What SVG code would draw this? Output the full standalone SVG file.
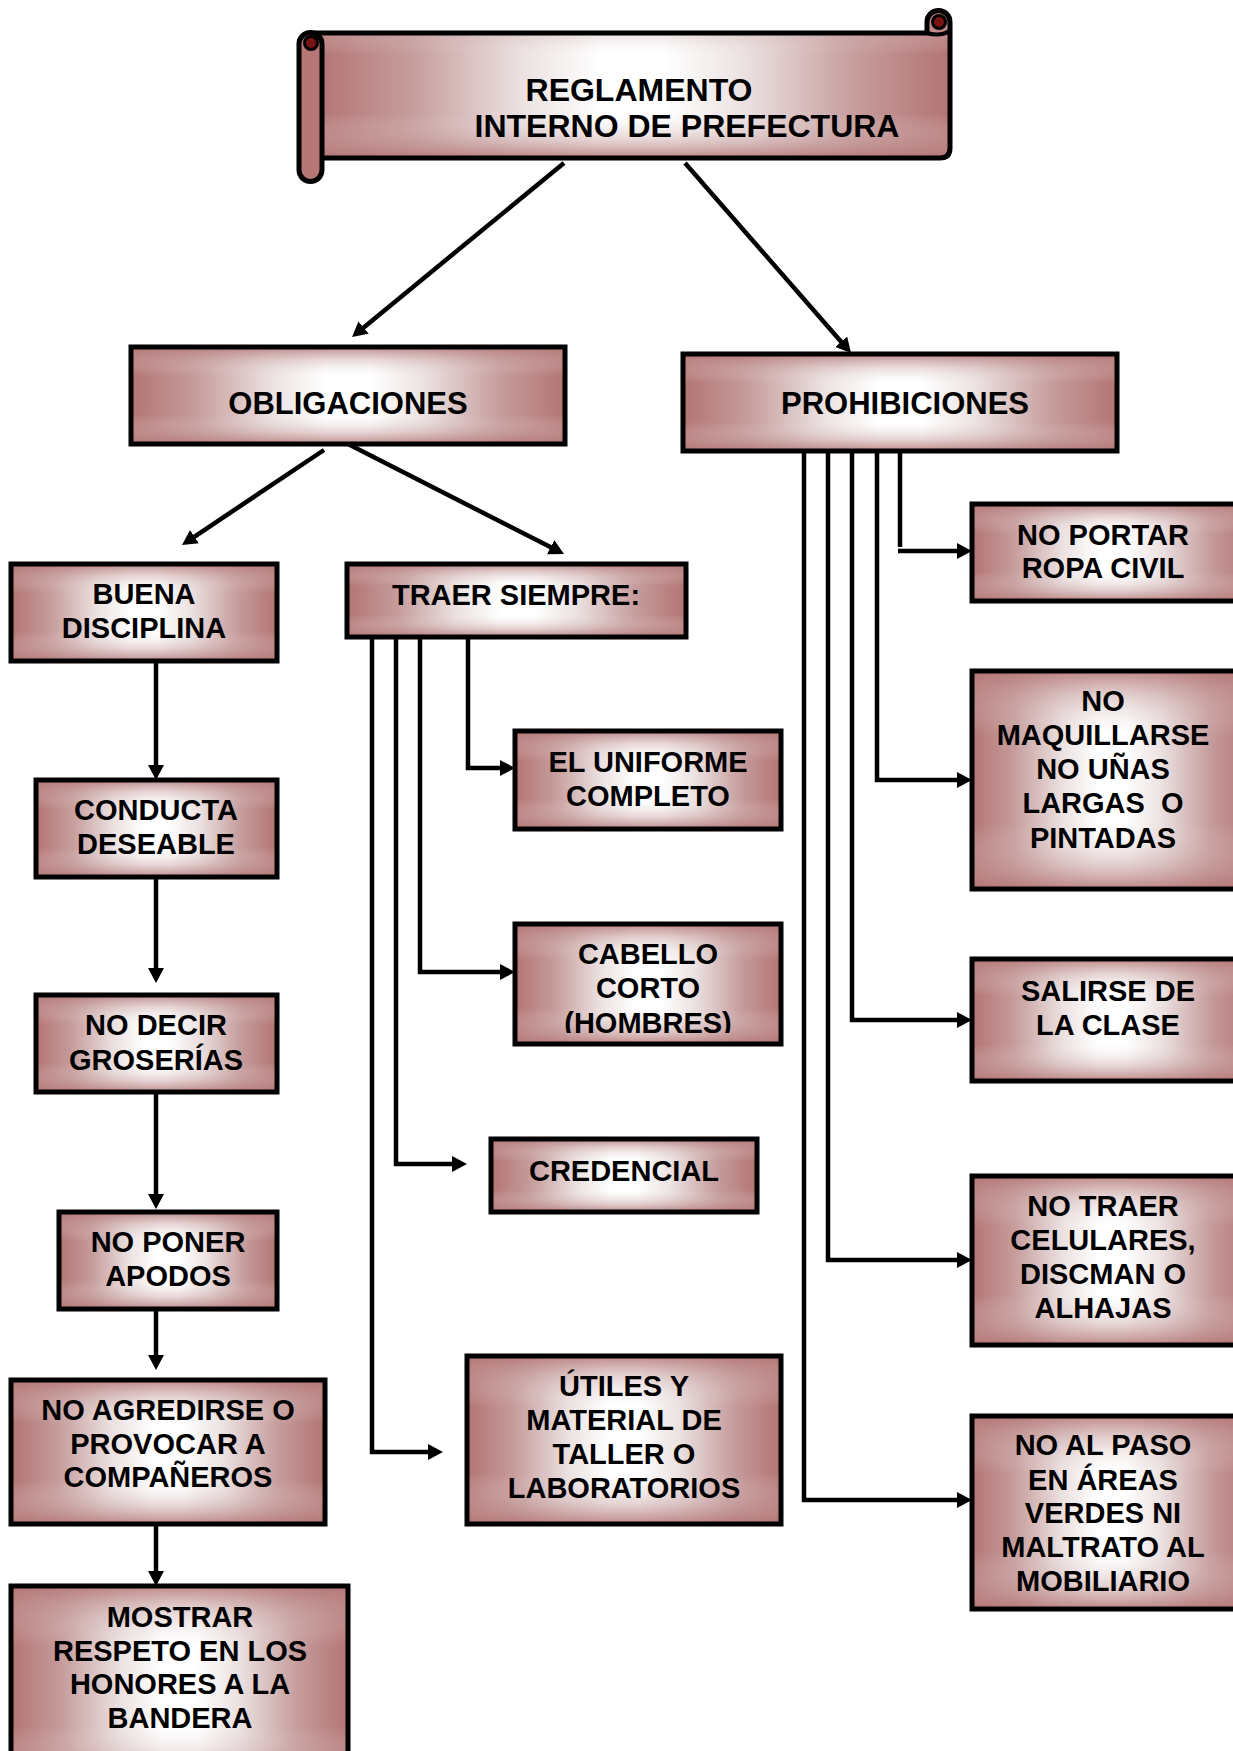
<svg xmlns="http://www.w3.org/2000/svg" width="1233" height="1751" viewBox="0 0 1233 1751">
<style>
.a{fill:url(#gh)}
.b{fill:url(#gv);stroke:#000;stroke-width:5}
.t{font-family:"Liberation Sans",Arial,sans-serif;font-weight:bold;font-size:29px;text-anchor:middle;fill:#000}
.c{fill:none;stroke:#000;stroke-width:4.5}
.m{marker-end:url(#ah)}
</style>
<defs>
<linearGradient id="gh" x1="0" y1="0" x2="1" y2="0">
<stop offset="0" stop-color="#b47474"/>
<stop offset="0.15" stop-color="#c69c9c"/>
<stop offset="0.32" stop-color="#ebe0e0"/>
<stop offset="0.45" stop-color="#ffffff"/>
<stop offset="0.55" stop-color="#ffffff"/>
<stop offset="0.68" stop-color="#ebe0e0"/>
<stop offset="0.85" stop-color="#c69c9c"/>
<stop offset="1" stop-color="#b47474"/>
</linearGradient>
<linearGradient id="gv" x1="0" y1="0" x2="0" y2="1">
<stop offset="0" stop-color="#b47474" stop-opacity="0.85"/>
<stop offset="0.12" stop-color="#c69c9c" stop-opacity="0.45"/>
<stop offset="0.3" stop-color="#ebe0e0" stop-opacity="0"/>
<stop offset="0.7" stop-color="#ebe0e0" stop-opacity="0"/>
<stop offset="0.88" stop-color="#c69c9c" stop-opacity="0.45"/>
<stop offset="1" stop-color="#b47474" stop-opacity="0.85"/>
</linearGradient>
<marker id="ah" viewBox="0 0 15 16" refX="3" refY="8" markerWidth="15" markerHeight="16" markerUnits="userSpaceOnUse" orient="auto">
<path d="M0,0 L15,8 L0,16 Z" fill="#000"/>
</marker>
<clipPath id="clipCab"><rect x="515" y="924" width="266" height="109"/></clipPath>
</defs>
<rect width="1233" height="1751" fill="#fff"/>

<g id="connectors">
<line class="c m" x1="564" y1="163" x2="361.3" y2="329.4"/>
<line class="c m" x1="685" y1="163" x2="843.1" y2="344"/>
<line class="c m" x1="324" y1="450" x2="192" y2="538.3"/>
<line class="c m" x1="348" y1="444" x2="553.3" y2="548.6"/>
<line class="c m" x1="156" y1="661" x2="156" y2="768"/>
<line class="c m" x1="156" y1="877" x2="156" y2="971"/>
<line class="c m" x1="156" y1="1092" x2="156" y2="1197"/>
<line class="c m" x1="156" y1="1300" x2="156" y2="1358"/>
<line class="c m" x1="156" y1="1524" x2="156" y2="1574"/>
<path class="c m" d="M468,627 V768 H503"/>
<path class="c m" d="M420,637 V972 H503"/>
<path class="c m" d="M396,637 V1164 H455"/>
<path class="c m" d="M372,637 V1452 H431"/>
<path class="c" d="M900,451 V547"/>
<path class="c m" d="M898,551 H960"/>
<path class="c m" d="M877,444 V780 H960"/>
<path class="c m" d="M852,444 V1020 H960"/>
<path class="c m" d="M828,444 V1260 H960"/>
<path class="c m" d="M804,444 V1500 H960"/>
</g>

<g id="title">
<path class="a" d="M316,33 H927 V22 A11.5,11.5 0 0 1 950,22 V148 Q950,158 940,158 H316 Z"/>
<path class="b" d="M316,33 H927 V22 A11.5,11.5 0 0 1 950,22 V148 Q950,158 940,158 H316 Z"/>
<path d="M927,33 Q939,37 950,31" fill="none" stroke="#000" stroke-width="4"/>
<path d="M299,44 A11.5,11.5 0 0 1 322,44 V170 A11.5,11.5 0 0 1 299,170 Z" fill="#b87777" stroke="#000" stroke-width="5"/>
<circle cx="311" cy="43" r="6.5" fill="#7a1414" stroke="#000" stroke-width="3"/>
<circle cx="939" cy="22" r="6.5" fill="#7a1414" stroke="#000" stroke-width="3"/>
<text class="t" style="font-size:32px" x="639" y="101">REGLAMENTO</text>
<text class="t" style="font-size:32px" x="687" y="137">INTERNO DE PREFECTURA</text>
</g>

<g id="obligaciones">
<rect class="a" x="131" y="347" width="434" height="97"/>
<rect class="b" x="131" y="347" width="434" height="97"/>
<text class="t" style="font-size:31px" x="348" y="414">OBLIGACIONES</text>
</g>

<g id="prohibiciones">
<rect class="a" x="683" y="354" width="434" height="97"/>
<rect class="b" x="683" y="354" width="434" height="97"/>
<text class="t" style="font-size:31px" x="905" y="414">PROHIBICIONES</text>
</g>

<g id="buena-disciplina">
<rect class="a" x="11" y="564" width="266" height="97"/>
<rect class="b" x="11" y="564" width="266" height="97"/>
<text class="t" x="144" y="604">BUENA</text>
<text class="t" x="144" y="638">DISCIPLINA</text>
</g>

<g id="conducta">
<rect class="a" x="36" y="780" width="241" height="97"/>
<rect class="b" x="36" y="780" width="241" height="97"/>
<text class="t" x="156" y="820">CONDUCTA</text>
<text class="t" x="156" y="854">DESEABLE</text>
</g>

<g id="groserias">
<rect class="a" x="36" y="995" width="241" height="97"/>
<rect class="b" x="36" y="995" width="241" height="97"/>
<text class="t" x="156" y="1035">NO DECIR</text>
<text class="t" x="156" y="1070">GROSERÍAS</text>
</g>

<g id="apodos">
<rect class="a" x="59" y="1212" width="218" height="97"/>
<rect class="b" x="59" y="1212" width="218" height="97"/>
<text class="t" x="168" y="1252">NO PONER</text>
<text class="t" x="168" y="1286">APODOS</text>
</g>

<g id="agredirse">
<rect class="a" x="11" y="1380" width="314" height="144"/>
<rect class="b" x="11" y="1380" width="314" height="144"/>
<text class="t" x="168" y="1420">NO AGREDIRSE O</text>
<text class="t" x="168" y="1454">PROVOCAR A</text>
<text class="t" x="168" y="1487">COMPAÑEROS</text>
</g>

<g id="respeto">
<rect class="a" x="11" y="1586" width="337" height="200"/>
<rect class="b" x="11" y="1586" width="337" height="200"/>
<text class="t" x="180" y="1627">MOSTRAR</text>
<text class="t" x="180" y="1661">RESPETO EN LOS</text>
<text class="t" x="180" y="1694">HONORES A LA</text>
<text class="t" x="180" y="1728">BANDERA</text>
</g>

<g id="traer-siempre">
<rect class="a" x="347" y="564" width="339" height="73"/>
<rect class="b" x="347" y="564" width="339" height="73"/>
<text class="t" x="516" y="605">TRAER SIEMPRE:</text>
</g>

<g id="uniforme">
<rect class="a" x="515" y="731" width="266" height="98"/>
<rect class="b" x="515" y="731" width="266" height="98"/>
<text class="t" x="648" y="772">EL UNIFORME</text>
<text class="t" x="648" y="806">COMPLETO</text>
</g>

<g id="cabello">
<rect class="a" x="515" y="924" width="266" height="120"/>
<rect class="b" x="515" y="924" width="266" height="120"/>
<g clip-path="url(#clipCab)">
<text class="t" x="648" y="964">CABELLO</text>
<text class="t" x="648" y="998">CORTO</text>
<text class="t" x="648" y="1033">(HOMBRES)</text>
</g>
</g>

<g id="credencial">
<rect class="a" x="491" y="1139" width="266" height="73"/>
<rect class="b" x="491" y="1139" width="266" height="73"/>
<text class="t" x="624" y="1181">CREDENCIAL</text>
</g>

<g id="utiles">
<rect class="a" x="467" y="1356" width="314" height="168"/>
<rect class="b" x="467" y="1356" width="314" height="168"/>
<text class="t" x="624" y="1396">ÚTILES Y</text>
<text class="t" x="624" y="1430">MATERIAL DE</text>
<text class="t" x="624" y="1464">TALLER O</text>
<text class="t" x="624" y="1498">LABORATORIOS</text>
</g>

<g id="ropa-civil">
<rect class="a" x="972" y="504" width="280" height="97"/>
<rect class="b" x="972" y="504" width="280" height="97"/>
<text class="t" x="1103" y="545">NO PORTAR</text>
<text class="t" x="1103" y="578">ROPA CIVIL</text>
</g>

<g id="maquillarse">
<rect class="a" x="972" y="671" width="280" height="218"/>
<rect class="b" x="972" y="671" width="280" height="218"/>
<text class="t" x="1103" y="711">NO</text>
<text class="t" x="1103" y="745">MAQUILLARSE</text>
<text class="t" x="1103" y="779">NO UÑAS</text>
<text class="t" x="1103" y="813" xml:space="preserve">LARGAS  O</text>
<text class="t" x="1103" y="848">PINTADAS</text>
</g>

<g id="salirse">
<rect class="a" x="972" y="959" width="280" height="122"/>
<rect class="b" x="972" y="959" width="280" height="122"/>
<text class="t" x="1108" y="1001">SALIRSE DE</text>
<text class="t" x="1108" y="1035">LA CLASE</text>
</g>

<g id="celulares">
<rect class="a" x="972" y="1176" width="280" height="169"/>
<rect class="b" x="972" y="1176" width="280" height="169"/>
<text class="t" x="1103" y="1216">NO TRAER</text>
<text class="t" x="1103" y="1250">CELULARES,</text>
<text class="t" x="1103" y="1284">DISCMAN O</text>
<text class="t" x="1103" y="1318">ALHAJAS</text>
</g>

<g id="areas-verdes">
<rect class="a" x="972" y="1416" width="280" height="193"/>
<rect class="b" x="972" y="1416" width="280" height="193"/>
<text class="t" x="1103" y="1455">NO AL PASO</text>
<text class="t" x="1103" y="1490">EN ÁREAS</text>
<text class="t" x="1103" y="1523">VERDES NI</text>
<text class="t" x="1103" y="1557">MALTRATO AL</text>
<text class="t" x="1103" y="1591">MOBILIARIO</text>
</g>
</svg>
